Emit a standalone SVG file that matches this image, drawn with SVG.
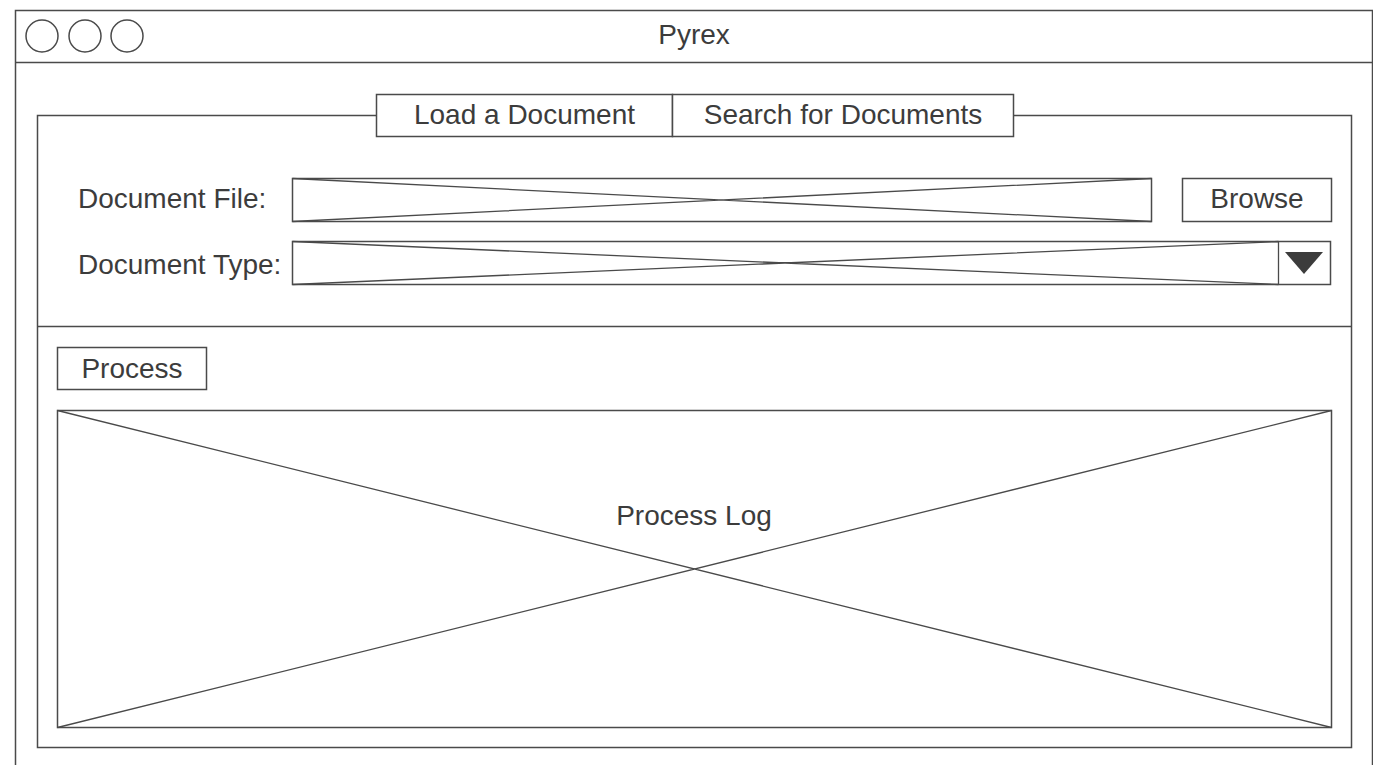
<svg xmlns="http://www.w3.org/2000/svg" width="1373" height="765" viewBox="0 0 1373 765">
<style>
.s{fill:#fff;stroke:#4a4a4a;stroke-width:1.5}
.l{fill:none;stroke:#4a4a4a;stroke-width:1.3}
text{font-family:"Liberation Sans",Arial,sans-serif;font-size:28px;fill:#3c3c3c}
.c{text-anchor:middle}
</style>
<rect width="1373" height="765" fill="#fff"/>
<g id="window">
<rect class="s" x="15.5" y="10.5" width="1357" height="770"/>
<line class="l" x1="15.5" y1="62.5" x2="1372.5" y2="62.5"/>
<circle class="s" cx="42" cy="36" r="16"/>
<circle class="s" cx="85" cy="36" r="16"/>
<circle class="s" cx="127" cy="36" r="16"/>
<text class="c" x="694" y="44">Pyrex</text>
</g>
<g id="panel">
<rect class="s" x="37.5" y="115.5" width="1314" height="632"/>
<line class="l" x1="37.5" y1="326.5" x2="1351.5" y2="326.5"/>
</g>
<g id="tab-load">
<rect class="s" x="376.5" y="94.5" width="296" height="42"/>
<text class="c" x="524.5" y="124">Load a Document</text>
</g>
<g id="tab-search">
<rect class="s" x="672.5" y="94.5" width="341" height="42"/>
<text class="c" x="843" y="124">Search for Documents</text>
</g>
<g id="label-file"><text x="78" y="208">Document File:</text></g>
<g id="field-file">
<rect class="s" x="292.5" y="178.5" width="859" height="43"/>
<path class="l" d="M292.5 178.5L1151.5 221.5M292.5 221.5L1151.5 178.5"/>
</g>
<g id="btn-browse">
<rect class="s" x="1182.5" y="178.5" width="149" height="43"/>
<text class="c" x="1257" y="208">Browse</text>
</g>
<g id="label-type"><text x="78" y="274">Document Type:</text></g>
<g id="field-type">
<rect class="s" x="292.5" y="241.5" width="1038" height="43"/>
<path class="l" d="M292.5 241.5L1278.5 284.5M292.5 284.5L1278.5 241.5M1278.5 241.5V284.5"/>
<polygon points="1285,252 1323,252 1304,274" fill="#3c3c3c"/>
</g>
<g id="btn-process">
<rect class="s" x="57.5" y="347.5" width="149" height="42"/>
<text class="c" x="132" y="378">Process</text>
</g>
<g id="process-log">
<rect class="s" x="57.5" y="410.5" width="1274" height="317"/>
<path class="l" d="M57.5 410.5L1331.5 727.5M57.5 727.5L1331.5 410.5"/>
<text class="c" x="694" y="525">Process Log</text>
</g>
<g id="connectors"></g>
</svg>
